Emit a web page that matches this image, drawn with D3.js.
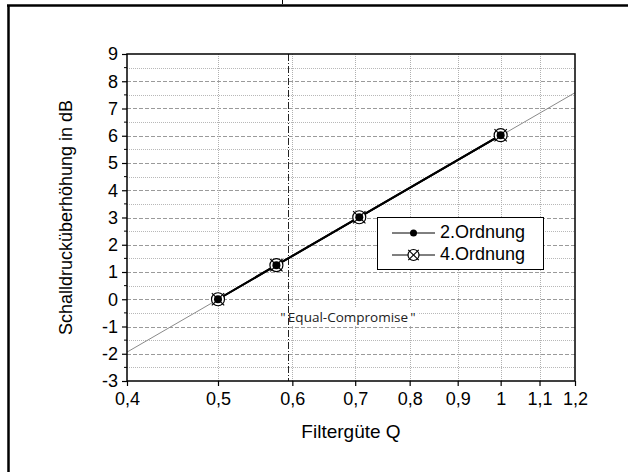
<!DOCTYPE html>
<html>
<head>
<meta charset="utf-8">
<script src="https://cdn.jsdelivr.net/npm/d3@7"></script>
<style>
  html, body { margin: 0; padding: 0; background: #fff; }
  svg { display: block; }
  text { font-family: "Liberation Sans", Arial, sans-serif; fill: #000; }
</style>
</head>
<body>
<svg id="chart" width="628" height="472"></svg>
<script>
// Filter quality Q and the resulting sound pressure peaking in dB
const qValues = [0.5, 0.577, 0.707, 1.0];
const order2Db = [0, 1.25, 3.01, 6.02];
const order4Db = [0, 1.25, 3.01, 6.02];

// Thin reference line over the full Q range
const refQ = [0.4, 1.2];
const refDb = [-1.94, 7.58];

// "Equal-Compromise" marker position
const compromiseQ = 0.594;

const xTicks = [0.4, 0.5, 0.6, 0.7, 0.8, 0.9, 1.0, 1.1, 1.2];
const xTickLabels = ["0,4", "0,5", "0,6", "0,7", "0,8", "0,9", "1", "1,1", "1,2"];
const yTicks = [-3, -2, -1, 0, 1, 2, 3, 4, 5, 6, 7, 8, 9];
const yMinorTicks = [-2.5, -1.5, -0.5, 0.5, 1.5, 2.5, 3.5, 4.5, 5.5, 6.5, 7.5, 8.5];

const seriesNames = ["2.Ordnung", "4.Ordnung"];

const svg = d3.select("#chart");
const m = { left: 127, right: 575, top: 54, bottom: 381 };
const FS = "18px";

const x = d3.scaleLog().domain([0.4, 1.2]).range([m.left, m.right]);
const y = d3.scaleLinear().domain([-3, 9]).range([m.bottom, m.top]);

// Outer page frame (left and top edges) with small mark at top
svg.append("line").attr("x1", 8.5).attr("x2", 8.5).attr("y1", 5).attr("y2", 472)
  .attr("stroke", "#000").attr("stroke-width", 2.5);
svg.append("line").attr("x1", 7).attr("x2", 628).attr("y1", 5.5).attr("y2", 5.5)
  .attr("stroke", "#000").attr("stroke-width", 2.5);
svg.append("line").attr("x1", 282.5).attr("x2", 282.5).attr("y1", 0).attr("y2", 4)
  .attr("stroke", "#000").attr("stroke-width", 1);

// Grid
const grid = svg.append("g");
grid.selectAll(".hmin").data(yMinorTicks).join("line")
  .attr("x1", m.left).attr("x2", m.right)
  .attr("y1", d => Math.round(y(d)) + 0.5).attr("y2", d => Math.round(y(d)) + 0.5)
  .attr("stroke", "#b8b8b8").attr("stroke-width", 1).attr("stroke-dasharray", "1,1");
grid.selectAll(".hmaj").data(yTicks.slice(1, -1)).join("line")
  .attr("x1", m.left).attr("x2", m.right)
  .attr("y1", d => Math.round(y(d)) + 0.5).attr("y2", d => Math.round(y(d)) + 0.5)
  .attr("stroke", "#9a9a9a").attr("stroke-width", 1).attr("stroke-dasharray", "4,2");
grid.selectAll(".vmaj").data(xTicks.slice(1, -1)).join("line")
  .attr("x1", d => Math.round(x(d)) + 0.5).attr("x2", d => Math.round(x(d)) + 0.5)
  .attr("y1", m.top).attr("y2", m.bottom)
  .attr("stroke", "#b0b0b0").attr("stroke-width", 1).attr("stroke-dasharray", "1,1");

// Reference line
const line = d3.line().x(d => x(d[0])).y(d => y(d[1]));
svg.append("path").datum(refQ.map((q, i) => [q, refDb[i]]))
  .attr("d", line).attr("fill", "none").attr("stroke", "#8a8a8a").attr("stroke-width", 1);

// Equal-Compromise label with white background
const lbl = svg.append("text").attr("x", 348).attr("y", 318)
  .attr("text-anchor", "middle").attr("dominant-baseline", "middle")
  .style("font-family", "'Open Sans', 'Noto Sans', sans-serif").style("font-size", "13.5px")
  .style("fill", "#222")
  .text("\"\u2009Equal-Compromise\u2009\"");
const bb = lbl.node().getBBox();
svg.insert("rect", "text").attr("x", bb.x - 2).attr("y", bb.y).attr("width", bb.width + 4)
  .attr("height", bb.height).attr("fill", "#fff");

// Vertical dash-dot line
svg.append("line")
  .attr("x1", Math.round(x(compromiseQ)) + 0.5).attr("x2", Math.round(x(compromiseQ)) + 0.5)
  .attr("y1", m.top).attr("y2", m.bottom)
  .attr("stroke", "#222").attr("stroke-width", 1).attr("stroke-dasharray", "7,2,1,2");

// Data lines
svg.append("path").datum(qValues.map((q, i) => [q, order4Db[i]]))
  .attr("d", line).attr("fill", "none").attr("stroke", "#000").attr("stroke-width", 2);
svg.append("path").datum(qValues.map((q, i) => [q, order2Db[i]]))
  .attr("d", line).attr("fill", "none").attr("stroke", "#000").attr("stroke-width", 2);

// Marker drawers
function crossCircle(g, cx, cy, r) {
  g.append("circle").attr("cx", cx).attr("cy", cy).attr("r", r)
    .attr("fill", "#fff").attr("stroke", "#000").attr("stroke-width", 1.2);
  const k = r * 0.95;
  g.append("line").attr("x1", cx - k).attr("y1", cy - k).attr("x2", cx + k).attr("y2", cy + k)
    .attr("stroke", "#000").attr("stroke-width", 1.1);
  g.append("line").attr("x1", cx - k).attr("y1", cy + k).attr("x2", cx + k).attr("y2", cy - k)
    .attr("stroke", "#000").attr("stroke-width", 1.1);
}
function dot(g, cx, cy, r) {
  g.append("circle").attr("cx", cx).attr("cy", cy).attr("r", r).attr("fill", "#000");
}

const markers = svg.append("g");
qValues.forEach((q, i) => crossCircle(markers, x(q), y(order4Db[i]), 6.5));
qValues.forEach((q, i) => dot(markers, x(q), y(order2Db[i]), 4));

// Plot frame
svg.append("rect").attr("x", m.left).attr("y", m.top)
  .attr("width", m.right - m.left).attr("height", m.bottom - m.top)
  .attr("fill", "none").attr("stroke", "#000").attr("stroke-width", 1.5);

// Axes
const xAxis = d3.axisBottom(x).tickValues(xTicks)
  .tickFormat((d, i) => xTickLabels[i]).tickSize(5).tickPadding(6);
const gx = svg.append("g").attr("transform", `translate(0,${m.bottom})`).call(xAxis);
gx.select(".domain").remove();
gx.selectAll(".tick line").attr("stroke-width", 1.2);
gx.selectAll("text").style("font-size", FS).style("font-family", "'Liberation Sans', Arial, sans-serif");

const yAxis = d3.axisLeft(y).tickValues(yTicks).tickSize(5).tickPadding(4)
  .tickFormat(d => d3.format("d")(d).replace("−", "-"));
const gy = svg.append("g").attr("transform", `translate(${m.left},0)`).call(yAxis);
gy.select(".domain").remove();
gy.selectAll(".tick line").attr("stroke-width", 1.2);
gy.selectAll("text").style("font-size", FS).style("font-family", "'Liberation Sans', Arial, sans-serif");
svg.append("g").selectAll("line").data(yMinorTicks).join("line")
  .attr("x1", m.left - 3).attr("x2", m.left)
  .attr("y1", d => y(d)).attr("y2", d => y(d))
  .attr("stroke", "#000").attr("stroke-width", 1);

// Axis titles
svg.append("text").attr("x", 351).attr("y", 438).attr("text-anchor", "middle")
  .style("font-size", "19px").text("Filtergüte Q");
svg.append("text").attr("transform", `translate(72,${(m.top + m.bottom) / 2}) rotate(-90)`)
  .attr("text-anchor", "middle").style("font-size", FS).text("Schalldrucküberhöhung in dB");

// Legend
const lg = svg.append("g");
lg.append("rect").attr("x", 377.5).attr("y", 217.5).attr("width", 166).attr("height", 52)
  .attr("fill", "#fff").attr("stroke", "#000").attr("stroke-width", 1);
const rows = [233, 255];
seriesNames.forEach((name, i) => {
  const ry = rows[i];
  lg.append("line").attr("x1", 392).attr("x2", 435).attr("y1", ry).attr("y2", ry)
    .attr("stroke", "#000").attr("stroke-width", 1);
  if (i === 0) dot(lg, 413.5, ry, 3.5);
  else crossCircle(lg, 413.5, ry, 5.5);
  lg.append("text").attr("x", 440).attr("y", ry).attr("dominant-baseline", "middle")
    .style("font-size", FS).text(name);
});
</script>
</body>
</html>
